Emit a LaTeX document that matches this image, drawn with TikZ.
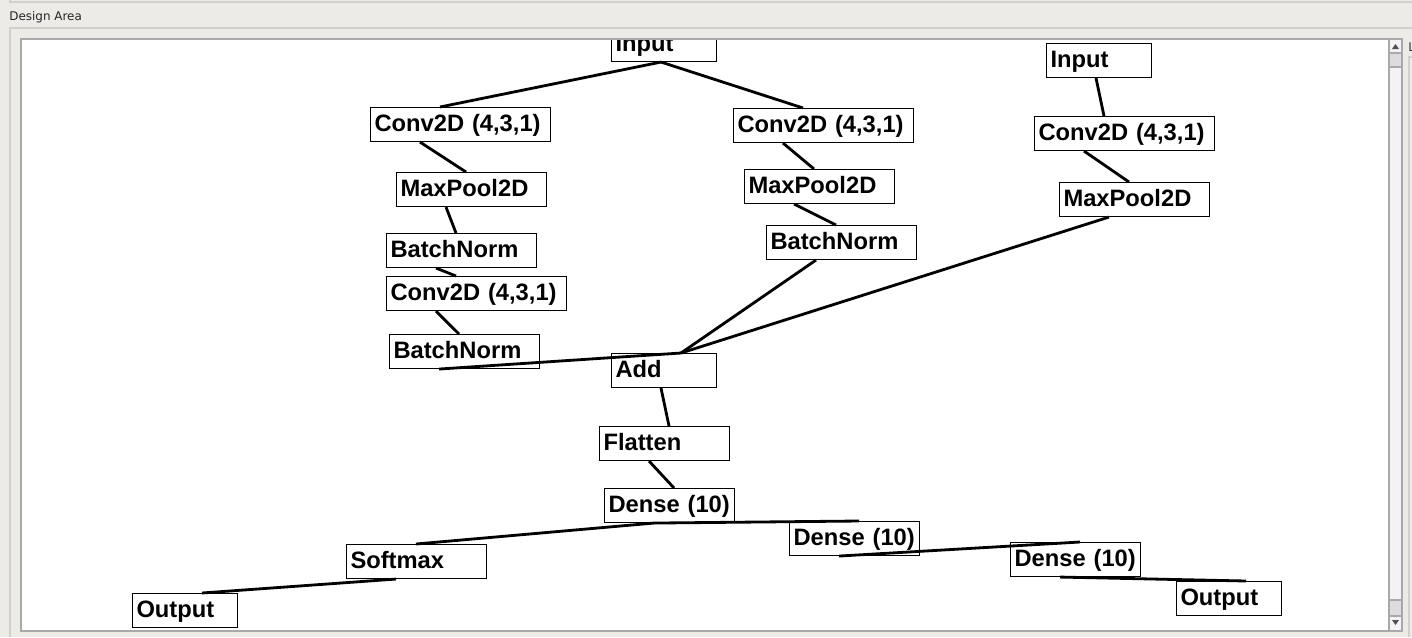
\documentclass[tikz,border=0pt]{standalone}
\usepackage{fontspec}
\setmainfont{Liberation Sans}
\newfontfamily\guifont{DejaVu Sans}
\usepackage{tikz}
\usetikzlibrary{calc}
\definecolor{panelgray}{HTML}{EDEBE8}
\definecolor{framegray}{HTML}{D3CFCA}
\definecolor{bordergray}{HTML}{A9A9A9}
\definecolor{trackgray}{HTML}{F3F3F3}
\definecolor{thumbgray}{HTML}{DCDCDC}
\definecolor{arrowgray}{HTML}{505050}

\begin{document}
\begin{tikzpicture}[x=0.02cm, y=-0.02cm,
        layer/.style={draw, fill=white, line width=0.6pt, anchor=north west,
            inner xsep=0.08cm, inner ysep=0pt, text height=0.48cm, text depth=0.2cm,
            align=left, font=\fontsize{13.5}{15}\selectfont\bfseries},
        short/.style={layer, text width=1.94cm},
        wide/.style={layer, text width=3.44cm},
        mid/.style={layer, text width=2.84cm},
        flat/.style={layer, text width=2.44cm},
        soft/.style={layer, text width=2.64cm},
        wire/.style={line width=1.6pt},
        frame/.style={framegray, line width=0.6pt}]
    \useasboundingbox (0,0) rectangle (1412,637);
    \fill[panelgray] (0,0) rectangle (1412,637);
    \draw[frame] (10,0) -- (10,2) -- (1412,2);
    \node[anchor=west, inner sep=0, font=\guifont\fontsize{6.8}{8}\selectfont, text=black!85] (title) at (9,17) {Design Area};
    \draw[frame] (10,637) -- (10,28) -- (1412,28);
    \draw[frame] (1412,57) -- (1409,57) -- (1409,637);
    \begin{scope}
        \clip (1408,40) rectangle (1412,55);
        \node[anchor=west, inner sep=0, font=\guifont\fontsize{6.8}{8}\selectfont, text=black!80] (side) at (1408,47) {L};
    \end{scope}

    % canvas and scrollbar
    \fill[white] (21,39) rectangle (1389,631);
    \fill[trackgray] (1389,39) rectangle (1402,631);
    \fill[thumbgray] (1389,53) rectangle (1402,67);
    \fill[thumbgray] (1389,600) rectangle (1402,616);
    \fill[arrowgray] (1392,49) -- (1399,49) -- (1395.5,44) -- cycle;
    \fill[arrowgray] (1392,620) -- (1399,620) -- (1395.5,625) -- cycle;
    \draw[bordergray, line width=0.6pt]
        (21,39) rectangle (1402,631)
        (1389,39) -- (1389,631)
        (1389,53) -- (1402,53)
        (1389,67) -- (1402,67)
        (1389,600) -- (1402,600)
        (1389,616) -- (1402,616);

    \begin{scope}
        \clip (22,40) rectangle (1388,630);
        \node[short] (input) at (611,27) {Input};
        \node[wide] (convA) at (370,107) {Conv2D (4,3,1)};
        \node[mid] (poolA) at (396,172) {MaxPool2D};
        \node[mid] (normA) at (386,233) {BatchNorm};
        \node[wide] (convB) at (386,276) {Conv2D (4,3,1)};
        \node[mid] (normB) at (389,334) {BatchNorm};
        \node[wide] (convC) at (733,108) {Conv2D (4,3,1)};
        \node[mid] (poolC) at (744,169) {MaxPool2D};
        \node[mid] (normC) at (766,225) {BatchNorm};
        \node[short] (inputR) at (1046,43) {Input};
        \node[wide] (convR) at (1034,116) {Conv2D (4,3,1)};
        \node[mid] (poolR) at (1059,182) {MaxPool2D};
        \node[short] (add) at (611,353) {Add};
        \node[flat] (flatten) at (599,426) {Flatten};
        \node[flat] (dense) at (604,488) {Dense (10)};
        \node[soft] (softmax) at (346,544) {Softmax};
        \node[short] (outL) at (132,593) {Output};
        \node[flat] (denseB) at (789,521) {Dense (10)};
        \node[flat] (denseC) at (1010,542) {Dense (10)};
        \node[short] (outR) at (1176,581) {Output};

        \foreach \a/\b in {input/convA, input/convC, convA/poolA, poolA/normA,
                normA/convB, convB/normB, normB/add, convC/poolC, poolC/normC,
                normC/add, inputR/convR, convR/poolR, poolR/add, add/flatten,
                flatten/dense, dense/softmax, softmax/outL, dense/denseB,
                denseB/denseC, denseC/outR}
            \draw[wire] ($(\a.south west)+(50,0)$) -- ($(\b.north west)+(70,0)$);
    \end{scope}
\end{tikzpicture}
\end{document}
